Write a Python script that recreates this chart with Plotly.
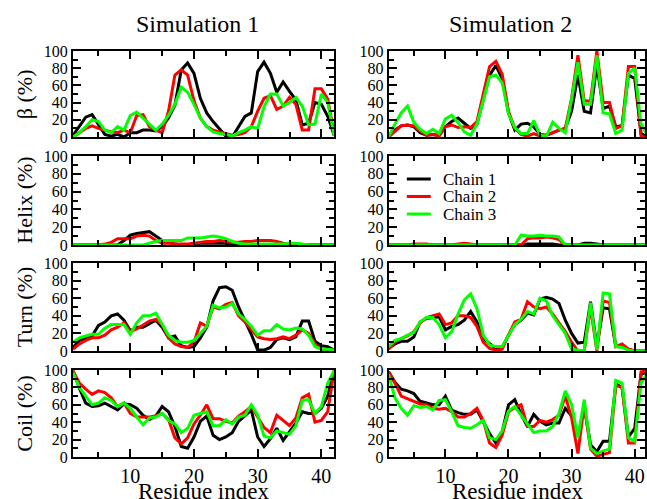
import plotly.graph_objects as go

residues = list(range(1, 43))
chains = ["Chain 1", "Chain 2", "Chain 3"]
colors = ["#000000", "#ff0000", "#00ff00"]
sim_titles = ["Simulation 1", "Simulation 2"]
row_labels = ["β (%)", "Helix (%)", "Turn (%)", "Coil (%)"]
y_ticks = [0, 20, 40, 60, 80, 100]
x_ticks = [10, 20, 30, 40]

# ---- Beta (%) ----
beta_sim1_c1 = [2, 12, 23, 26, 14, 3, 1, 3, 0, 5, 5, 8, 8, 7, 12, 22, 37, 78, 86, 74, 45, 28, 18, 10,
                1, 0, 12, 24, 28, 76, 87, 74, 52, 64, 53, 43, 14, 16, 40, 38, 24, 2]
beta_sim1_c2 = [0, 5, 10, 13, 10, 8, 6, 5, 8, 5, 25, 26, 12, 8, 5, 30, 72, 78, 72, 42, 22, 12, 8, 6,
                4, 2, 3, 5, 12, 30, 45, 48, 32, 36, 46, 38, 8, 8, 56, 56, 44, 4]
beta_sim1_c3 = [0, 5, 12, 20, 18, 8, 5, 12, 8, 25, 29, 22, 15, 8, 15, 25, 38, 58, 52, 38, 22, 12, 6, 4,
                3, 1, 5, 8, 12, 10, 35, 50, 50, 36, 40, 46, 36, 14, 15, 50, 40, 2]
beta_sim2_c1 = [0, 8, 13, 14, 12, 5, 2, 3, 2, 12, 18, 22, 16, 10, 15, 45, 72, 83, 68, 28, 8, 15, 16, 12,
                3, 2, 5, 8, 10, 30, 72, 30, 28, 84, 33, 36, 12, 13, 72, 68, 4, 0]
beta_sim2_c2 = [0, 7, 13, 14, 13, 7, 2, 3, 1, 12, 14, 11, 12, 11, 18, 50, 82, 88, 73, 30, 10, 3, 1, 4,
                1, 2, 5, 8, 10, 45, 95, 42, 42, 100, 40, 40, 10, 13, 82, 82, 1, 0]
beta_sim2_c3 = [0, 15, 28, 36, 17, 9, 4, 9, 4, 21, 25, 17, 6, 2, 15, 44, 70, 72, 63, 27, 11, 4, 4, 19,
                2, 1, 17, 10, 5, 44, 87, 38, 38, 95, 28, 27, 4, 8, 74, 80, 15, 2]

# ---- Helix (%) ----
helix_sim1_c1 = [0, 0, 0, 0, 0, 0, 0, 0, 5, 11, 13, 14, 15, 10, 5, 3, 1, 0, 0, 1, 2, 2, 2, 2,
                 2, 0, 0, 0, 0, 0, 0, 0, 0, 0, 0, 0, 0, 0, 0, 0, 0, 0]
helix_sim1_c2 = [0, 0, 0, 0, 0, 1, 3, 7, 7, 7, 10, 11, 10, 5, 2, 2, 1, 1, 1, 2, 3, 4, 4, 5,
                 4, 3, 3, 4, 4, 5, 5, 5, 4, 2, 1, 1, 0, 0, 0, 0, 0, 0]
helix_sim1_c3 = [0, 0, 0, 0, 0, 0, 0, 0, 0, 0, 0, 0, 2, 4, 5, 5, 5, 5, 8, 8, 8, 9, 10, 9,
                 7, 4, 2, 1, 1, 1, 1, 1, 1, 1, 2, 2, 1, 0, 0, 0, 0, 0]
helix_sim2_c1 = [0, 0, 0, 0, 0, 0, 0, 0, 0, 0, 0, 0, 0, 0, 0, 0, 0, 0, 0, 0, 0, 0, 1, 1,
                 1, 1, 1, 0, 0, 0, 0, 2, 2, 1, 0, 0, 0, 0, 0, 0, 0, 0]
helix_sim2_c2 = [0, 0, 0, 0, 1, 1, 1, 0, 0, 0, 0, 1, 2, 1, 0, 0, 0, 0, 0, 0, 0, 0, 7, 8,
                 8, 9, 8, 6, 0, 0, 0, 0, 0, 0, 0, 0, 0, 0, 0, 0, 0, 0]
helix_sim2_c3 = [0, 0, 0, 0, 0, 0, 0, 0, 0, 0, 0, 0, 0, 0, 0, 0, 0, 0, 0, 0, 0, 11, 10, 10,
                 11, 10, 10, 9, 0, 0, 0, 0, 0, 0, 0, 0, 0, 0, 0, 0, 0, 0]

# ---- Turn (%) ----
turn_sim1_c1 = [4, 12, 15, 17, 29, 33, 40, 42, 35, 23, 27, 27, 31, 35, 27, 15, 17, 6, 4, 5, 15, 27, 57, 72,
                73, 69, 50, 35, 19, 1, 1, 4, 13, 15, 13, 16, 34, 34, 11, 6, 5, 1]
turn_sim1_c2 = [2, 8, 12, 15, 15, 18, 24, 27, 32, 22, 25, 30, 34, 36, 30, 15, 8, 5, 4, 10, 32, 28, 50, 48,
                53, 55, 40, 33, 25, 16, 14, 13, 14, 16, 14, 18, 24, 20, 8, 2, 1, 0]
turn_sim1_c3 = [10, 15, 17, 19, 19, 26, 30, 30, 30, 19, 32, 40, 40, 43, 30, 18, 12, 10, 10, 12, 20, 28, 52, 49,
                50, 54, 42, 36, 28, 18, 23, 23, 30, 25, 24, 26, 25, 18, 5, 2, 2, 1]
turn_sim2_c1 = [3, 8, 11, 11, 16, 33, 37, 38, 39, 24, 28, 30, 35, 45, 33, 14, 8, 3, 4, 18, 30, 35, 43, 41,
                59, 61, 59, 54, 35, 20, 9, 10, 56, 5, 49, 48, 5, 5, 2, 0, 0, 0]
turn_sim2_c2 = [2, 10, 14, 17, 22, 32, 38, 40, 42, 30, 32, 40, 40, 38, 28, 10, 3, 1, 2, 18, 33, 36, 56, 50,
                48, 50, 42, 32, 22, 10, 0, 0, 50, 0, 57, 55, 5, 8, 2, 0, 0, 0]
turn_sim2_c3 = [5, 12, 14, 18, 21, 33, 38, 38, 30, 15, 22, 42, 58, 65, 48, 18, 7, 5, 5, 18, 30, 36, 45, 42,
                60, 57, 40, 30, 20, 2, 1, 0, 55, 1, 66, 65, 5, 4, 1, 0, 0, 0]

# ---- Coil (%) ----
coil_sim1_c1 = [99, 79, 62, 58, 59, 62, 58, 54, 61, 60, 56, 48, 43, 47, 58, 52, 35, 12, 10, 23, 41, 47, 25, 20,
                23, 28, 41, 47, 54, 23, 12, 21, 33, 19, 29, 39, 52, 50, 50, 56, 70, 99]
coil_sim1_c2 = [99, 85, 78, 72, 76, 74, 68, 58, 62, 50, 46, 46, 46, 47, 50, 43, 22, 15, 22, 38, 48, 60, 44, 44,
                41, 39, 47, 52, 58, 46, 34, 28, 48, 42, 36, 45, 68, 72, 40, 42, 52, 99]
coil_sim1_c3 = [97, 80, 70, 60, 62, 68, 65, 58, 62, 56, 46, 37, 45, 46, 50, 42, 38, 28, 33, 48, 50, 52, 36, 36,
                43, 38, 46, 48, 60, 48, 24, 22, 30, 28, 26, 36, 65, 66, 50, 58, 85, 99]
coil_sim2_c1 = [98, 86, 78, 76, 73, 64, 62, 60, 60, 70, 54, 51, 49, 49, 54, 41, 27, 16, 29, 60, 66, 49, 35, 49,
                41, 37, 39, 39, 56, 47, 23, 58, 14, 6, 18, 18, 84, 80, 23, 33, 95, 98]
coil_sim2_c2 = [98, 85, 70, 67, 64, 61, 60, 56, 55, 56, 52, 46, 46, 50, 56, 42, 16, 11, 25, 52, 57, 60, 35, 35,
                42, 40, 43, 48, 70, 45, 4, 60, 9, 1, 3, 5, 82, 80, 16, 16, 98, 99]
coil_sim2_c3 = [95, 68, 56, 48, 59, 57, 58, 54, 65, 66, 52, 36, 34, 33, 37, 42, 22, 20, 30, 53, 58, 48, 38, 28,
                30, 30, 35, 50, 76, 60, 22, 66, 10, 4, 7, 9, 88, 85, 22, 18, 85, 96]

panels = {
    (0, 0): [beta_sim1_c1, beta_sim1_c2, beta_sim1_c3],
    (0, 1): [beta_sim2_c1, beta_sim2_c2, beta_sim2_c3],
    (1, 0): [helix_sim1_c1, helix_sim1_c2, helix_sim1_c3],
    (1, 1): [helix_sim2_c1, helix_sim2_c2, helix_sim2_c3],
    (2, 0): [turn_sim1_c1, turn_sim1_c2, turn_sim1_c3],
    (2, 1): [turn_sim2_c1, turn_sim2_c2, turn_sim2_c3],
    (3, 0): [coil_sim1_c1, coil_sim1_c2, coil_sim1_c3],
    (3, 1): [coil_sim2_c1, coil_sim2_c2, coil_sim2_c3],
}

FONT = "Liberation Serif"
W, H = 647, 499
ML, MR, MT, MB = 73, 0, 51, 42
PW, PH = W - ML - MR, H - MT - MB

def px_x(p):
    return (p - ML) / PW

def px_y(p):
    return (H - MB - p) / PH

x_domains = [[0.0, px_x(335)], [px_x(389.7), 1.0]]
x_ranges = [[1, 42], [1, 41.63]]
row_px = [(51, 137), (156, 245), (263, 351), (370, 457)]
y_domains = [[px_y(b), px_y(t)] for (t, b) in row_px]

fig = go.Figure()
layout_axes = {}
for (r, c), series in panels.items():
    n = r * 2 + c + 1
    xa = "x" if n == 1 else "x%d" % n
    ya = "y" if n == 1 else "y%d" % n
    for i, vals in enumerate(series):
        fig.add_trace(go.Scatter(
            x=residues, y=vals, xaxis=xa, yaxis=ya, mode="lines",
            line=dict(color=colors[i], width=3),
            name=chains[i], legendgroup=chains[i], showlegend=False,
        ))
    layout_axes["xaxis" if n == 1 else "xaxis%d" % n] = dict(
        domain=x_domains[c], range=x_ranges[c], anchor=ya,
        tickvals=x_ticks, ticks="inside", ticklen=8, tickwidth=2, tickcolor="black",
        minor=dict(dtick=5, tick0=0, ticks="inside", ticklen=5, tickwidth=2, tickcolor="black"),
        showline=True, linewidth=2, linecolor="black", mirror="allticks",
        showgrid=False, zeroline=False, showticklabels=(r == 3),
        tickfont=dict(family=FONT, size=20, color="black"),
    )
    layout_axes["yaxis" if n == 1 else "yaxis%d" % n] = dict(
        domain=y_domains[r], range=[0, 100], anchor=xa,
        tickvals=y_ticks, ticks="inside", ticklen=8, tickwidth=2, tickcolor="black",
        minor=dict(dtick=10, tick0=0, ticks="inside", ticklen=5, tickwidth=2, tickcolor="black"),
        showline=True, linewidth=2, linecolor="black", mirror="allticks",
        showgrid=False, zeroline=False,
        tickfont=dict(family=FONT, size=16, color="black"),
    )

annotations = []
shapes = []
for c, title in enumerate(sim_titles):
    cx = [197.5, 511.7][c]
    annotations.append(dict(text=title, x=px_x(cx), y=px_y(24), xref="paper", yref="paper",
                            xanchor="center", yanchor="middle", showarrow=False,
                            font=dict(family=FONT, size=24, color="black")))
    annotations.append(dict(text="Residue index", x=px_x([204, 519][c]), y=px_y(491),
                            xref="paper", yref="paper", xanchor="center", yanchor="middle",
                            showarrow=False, font=dict(family=FONT, size=23, color="black")))
for r, lab in enumerate(row_labels):
    t, b = row_px[r]
    annotations.append(dict(text=lab, x=px_x(24), y=px_y((t + b) / 2), xref="paper", yref="paper",
                            xanchor="center", yanchor="middle", textangle=-90, showarrow=False,
                            font=dict(family=FONT, size=22, color="black")))

# legend (drawn inside the Helix / Simulation 2 panel)
legend_rows_px = [179, 196.5, 214]
for i, name in enumerate(chains):
    yy = px_y(legend_rows_px[i])
    shapes.append(dict(type="line", xref="paper", yref="paper", x0=px_x(408), x1=px_x(432),
                       y0=yy, y1=yy, line=dict(color=colors[i], width=3)))
    annotations.append(dict(text=name, x=px_x(442), y=yy, xref="paper", yref="paper",
                            xanchor="left", yanchor="middle", showarrow=False,
                            font=dict(family=FONT, size=17, color="black")))

fig.update_layout(
    width=W, height=H,
    margin=dict(l=ML, r=MR, t=MT, b=MB, pad=0),
    paper_bgcolor="white", plot_bgcolor="white",
    font=dict(family=FONT, color="black"),
    showlegend=False,
    annotations=annotations,
    shapes=shapes,
    **layout_axes,
)

fig.write_html("out.html", config={"displayModeBar": False},
               post_script="document.body.style.margin='0px';")
